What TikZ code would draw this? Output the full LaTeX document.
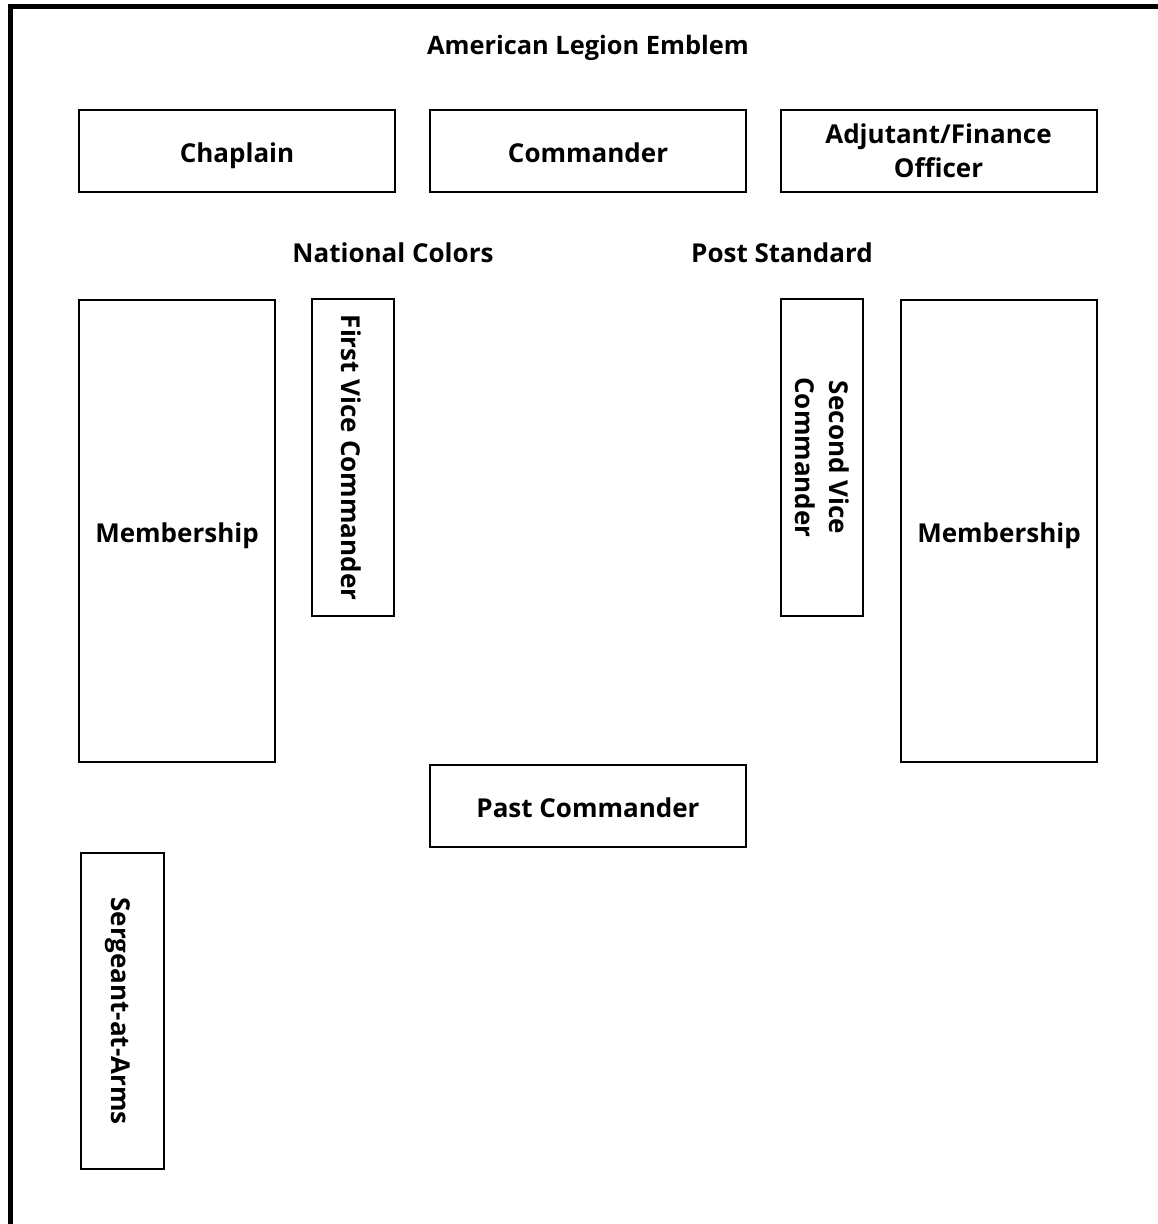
\documentclass[tikz,border=0pt]{standalone}
\usepackage{fontspec}
\setmainfont{Open Sans}
\begin{document}
\begin{tikzpicture}[x=0.5pt,y=-0.5pt,
  officer/.style={draw, line width=1pt, align=center, inner sep=0pt,
    font=\bfseries\fontsize{13}{17}\selectfont},
  oneline/.style={text height=11.3pt, text depth=0pt},
  flag/.style={align=center, inner sep=0pt, oneline, font=\bfseries\fontsize{13}{17}\selectfont}]
\useasboundingbox (0,0) rectangle (1157,1224);
\draw [line width=2.5pt] (10.5,1230) -- (10.5,6.5) -- (1165,6.5);

% head table
\node[flag, font=\bfseries\fontsize{12.7}{17}\selectfont] (emblem) at (588,43) {American Legion Emblem};
\node[officer, oneline, minimum width=158pt, minimum height=41pt] (chaplain) at (237,151) {Chaplain};
\node[officer, oneline, minimum width=158pt, minimum height=41pt] (commander) at (588,151) {Commander};
\node[officer, minimum width=158pt, minimum height=41pt] (adjutant) at (938.5,151) {Adjutant/Finance\\Officer};

% colors
\node[flag] (colors) at (393,251.5) {National Colors};
\node[flag] (standard) at (782,251.5) {Post Standard};

% sides
\node[officer, oneline, minimum width=98pt, minimum height=231pt] (memleft) at (177,531) {Membership};
\node[officer, oneline, minimum width=158.5pt, minimum height=41pt, rotate=-90] (firstvice) at (353,457.5) {First Vice Commander};
\node[officer, minimum width=158.5pt, minimum height=41pt, rotate=-90] (secondvice) at (822,457.5) {Second Vice\\Commander};
\node[officer, oneline, minimum width=98pt, minimum height=231pt] (memright) at (999,531) {Membership};

% floor
\node[officer, oneline, minimum width=158pt, minimum height=41pt] (past) at (588,806) {Past Commander};
\node[officer, oneline, minimum width=158pt, minimum height=41.5pt, rotate=-90] (sergeant) at (122.5,1011) {Sergeant-at-Arms};
\end{tikzpicture}
\end{document}
